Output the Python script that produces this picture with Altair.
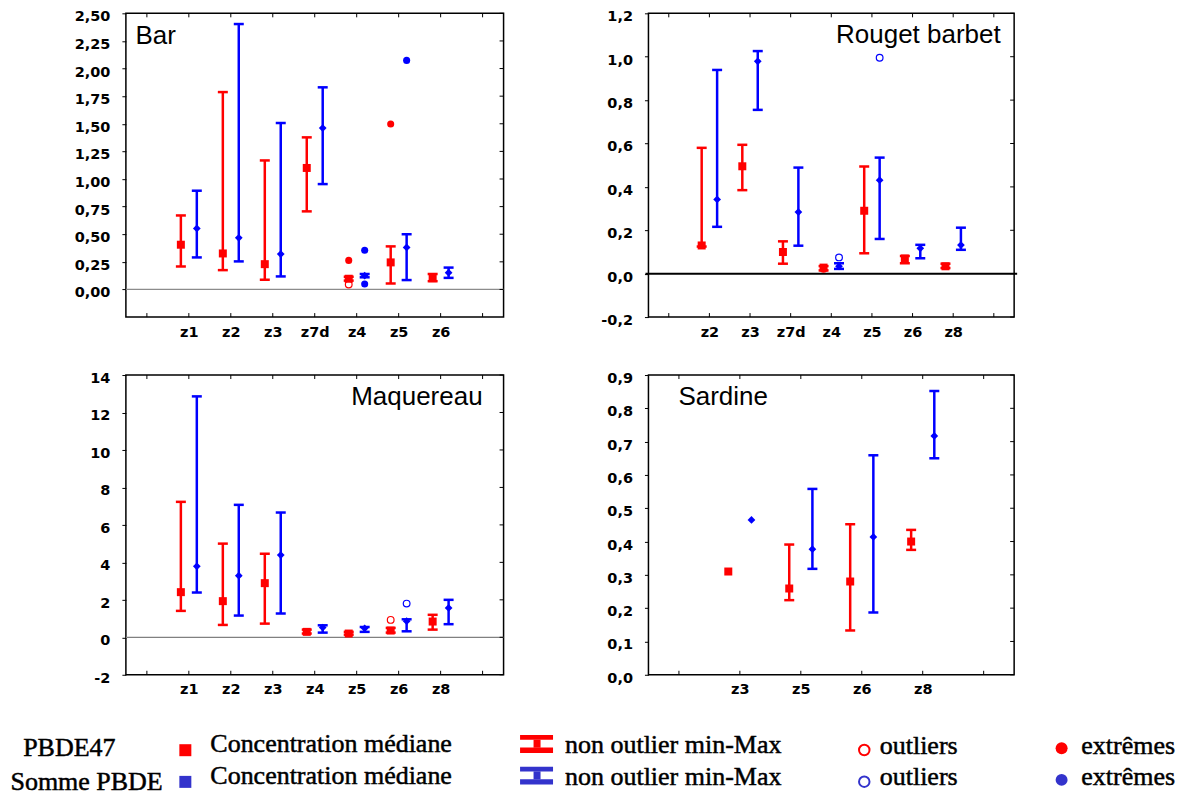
import altair as alt
import pandas as pd

# ---------------- data ----------------
# Bar
BAR_ZONES = ["z1", "z2", "z3", "z7d", "z4", "z5", "z6"]
BAR_P47_MED = [0.405, 0.326, 0.229, 1.10, 0.097, 0.245, 0.102]
BAR_P47_MIN = [0.208, 0.175, 0.088, 0.707, 0.080, 0.054, 0.075]
BAR_P47_MAX = [0.670, 1.787, 1.168, 1.377, 0.115, 0.390, 0.140]
BAR_SUM_MED = [0.553, 0.468, 0.320, 1.461, 0.125, 0.380, 0.152]
BAR_SUM_MIN = [0.290, 0.254, 0.118, 0.954, 0.110, 0.085, 0.105]
BAR_SUM_MAX = [0.894, 2.403, 1.507, 1.830, 0.140, 0.500, 0.198]
BAR_P47_OUT_ZONES = ["z4"]
BAR_P47_OUT_VALS = [0.045]
BAR_SUM_OUT_ZONES = []
BAR_SUM_OUT_VALS = []
BAR_P47_EXT_ZONES = ["z4", "z5"]
BAR_P47_EXT_VALS = [0.263, 1.498]
BAR_SUM_EXT_ZONES = ["z4", "z4", "z5"]
BAR_SUM_EXT_VALS = [0.355, 0.050, 2.074]
BAR_YTICKS = [0.0, 0.25, 0.5, 0.75, 1.0, 1.25, 1.5, 1.75, 2.0, 2.25, 2.5]

# Rouget barbet
RB_ZONES = ["z2", "z3", "z7d", "z4", "z5", "z6", "z8"]
RB_P47_MED = [0.130, 0.495, 0.100, 0.028, 0.290, 0.070, 0.034]
RB_P47_MIN = [0.125, 0.385, 0.046, 0.015, 0.094, 0.048, 0.026]
RB_P47_MAX = [0.580, 0.594, 0.149, 0.035, 0.494, 0.081, 0.046]
RB_SUM_MED = [0.342, 0.979, 0.284, 0.034, 0.431, 0.117, 0.132]
RB_SUM_MIN = [0.216, 0.755, 0.129, 0.022, 0.160, 0.071, 0.110]
RB_SUM_MAX = [0.939, 1.026, 0.489, 0.048, 0.535, 0.133, 0.212]
RB_P47_OUT_ZONES = []
RB_P47_OUT_VALS = []
RB_SUM_OUT_ZONES = ["z4", "z5"]
RB_SUM_OUT_VALS = [0.075, 0.995]
RB_P47_EXT_ZONES = ["z4"]
RB_P47_EXT_VALS = [0.020]
RB_SUM_EXT_ZONES = []
RB_SUM_EXT_VALS = []
RB_YTICKS = [-0.2, 0.0, 0.2, 0.4, 0.6, 0.8, 1.0, 1.2]

# Maquereau
MQ_ZONES = ["z1", "z2", "z3", "z4", "z5", "z6", "z8"]
MQ_P47_MED = [2.41, 1.93, 2.89, 0.29, 0.20, 0.36, 0.84]
MQ_P47_MIN = [1.41, 0.66, 0.73, 0.20, 0.14, 0.25, 0.41]
MQ_P47_MAX = [7.23, 5.00, 4.46, 0.41, 0.29, 0.50, 1.20]
MQ_SUM_MED = [3.79, 3.29, 4.39, 0.52, 0.48, 0.86, 1.57]
MQ_SUM_MIN = [2.39, 1.16, 1.27, 0.25, 0.29, 0.32, 0.70]
MQ_SUM_MAX = [12.86, 7.07, 6.66, 0.64, 0.55, 0.96, 2.00]
MQ_P47_OUT_ZONES = ["z6"]
MQ_P47_OUT_VALS = [0.93]
MQ_SUM_OUT_ZONES = ["z6"]
MQ_SUM_OUT_VALS = [1.80]
MQ_P47_EXT_ZONES = []
MQ_P47_EXT_VALS = []
MQ_SUM_EXT_ZONES = []
MQ_SUM_EXT_VALS = []
MQ_YTICKS = [-2, 0, 2, 4, 6, 8, 10, 12, 14]

# Sardine
SA_ZONES = ["z3", "z5", "z6", "z8"]
SA_P47_MED = [0.310, 0.259, 0.280, 0.400]
SA_P47_MIN = [None, 0.224, 0.133, 0.375]
SA_P47_MAX = [None, 0.391, 0.452, 0.435]
SA_SUM_MED = [0.465, 0.377, 0.414, 0.717]
SA_SUM_MIN = [None, 0.318, 0.187, 0.650]
SA_SUM_MAX = [None, 0.558, 0.659, 0.852]
SA_YTICKS = [0.0, 0.1, 0.2, 0.3, 0.4, 0.5, 0.6, 0.7, 0.8, 0.9]

# legend texts
LEG_SERIES = ["PBDE47", "Somme PBDE"]
LEG_ITEMS = ["Concentration médiane", "non outlier min-Max", "outliers", "extrêmes"]

# ---------------- styling ----------------
RED = "#ff0000"
BLUE = "#0000ff"
LEG_BLUE = "#3333cc"
OFF = 0.19
LABEL_FONT = "DejaVu Sans"
LABEL_SIZE = 14.5

ONE = pd.DataFrame({"k": [0]})


def y_label_expr(fmt):
    return "replace(replace(format(datum.value, '%s'), '.', ','), '\u2212', '-')" % fmt


def make_panel(zones, p47, sm, outs, exts, ydom, yticks, fmt, title, tx, ty, talign,
               w, h, zero=None, extra=()):
    labels = [""] + list(zones) + [""]
    n = len(labels)
    xs = alt.Scale(domain=[-0.5, n - 0.5], nice=False, zero=False)
    ys = alt.Scale(domain=ydom, nice=False, zero=False)
    lab_arr = "[" + ",".join("'" + l + "'" for l in labels) + "]"
    xaxis = alt.Axis(values=list(range(n)), labelExpr=lab_arr + "[datum.value]",
                     ticks=False, domain=False, grid=False, title=None,
                     labelPadding=8, labelFlush=False, labelOverlap=False,
                     labelFont=LABEL_FONT, labelFontSize=LABEL_SIZE, labelFontWeight="bold",
                     labelColor="black")
    yaxis = alt.Axis(values=list(yticks), labelExpr=y_label_expr(fmt), tickSize=4,
                     domain=False, grid=False, title=None, labelPadding=12, labelOffset=3.5,
                     labelFlush=False, labelOverlap=False,
                     labelFont=LABEL_FONT, labelFontSize=LABEL_SIZE, labelFontWeight="bold",
                     labelColor="black", tickColor="black")

    def X(f):
        return alt.X(f, type="quantitative", scale=xs, axis=xaxis)

    def Y(f):
        return alt.Y(f, type="quantitative", scale=ys, axis=yaxis)

    layers = []
    if zero is not None:
        zc, zw, zext = zero
        layers.append(alt.Chart(pd.DataFrame({"v": [0.0]})).mark_rule(color=zc, strokeWidth=zw)
                      .encode(y=Y("v"), x=alt.value(-zext), x2=alt.value(w + zext)))
    xt = pd.DataFrame({"t": list(range(n))})
    layers.append(alt.Chart(xt).mark_rule(color="black", strokeWidth=1)
                  .encode(x=X("t"), y=alt.value(h - 4), y2=alt.value(h)))
    layers.append(alt.Chart(xt).mark_rule(color="black", strokeWidth=1)
                  .encode(x=X("t"), y=alt.value(0), y2=alt.value(4)))
    yt = pd.DataFrame({"v": list(yticks)})
    layers.append(alt.Chart(yt).mark_rule(color="black", strokeWidth=1)
                  .encode(y=Y("v"), x=alt.value(w - 4), x2=alt.value(w)))

    for (med, lo, hi), off, col, shape, msize in [(p47, -OFF, RED, "square", 64),
                                                  (sm, OFF, BLUE, "diamond", 60)]:
        df = pd.DataFrame({"x": [i + 1 + off for i in range(len(zones))],
                           "med": med, "lo": lo, "hi": hi})
        bars = df.dropna()
        layers.append(alt.Chart(bars).mark_rule(color=col, strokeWidth=2.5)
                      .encode(x=X("x"), y=Y("lo"), y2=alt.Y2("hi")))
        for f in ("lo", "hi"):
            layers.append(alt.Chart(bars).mark_tick(color=col, orient="horizontal", size=10,
                                                    thickness=2.5, opacity=1)
                          .encode(x=X("x"), y=Y(f)))
        layers.append(alt.Chart(df[["x", "med"]]).mark_point(shape=shape, filled=True, size=msize,
                                                             color=col, opacity=1)
                      .encode(x=X("x"), y=Y("med")))

    for (zl, vl), off, col in zip(outs, (-OFF, OFF), (RED, BLUE)):
        if zl:
            d = pd.DataFrame({"x": [zones.index(z) + 1 + off for z in zl], "v": vl})
            layers.append(alt.Chart(d).mark_point(shape="circle", filled=False, size=45,
                                                  strokeWidth=1.2, color=col, opacity=1)
                          .encode(x=X("x"), y=Y("v")))
    for (zl, vl), off, col in zip(exts, (-OFF, OFF), (RED, BLUE)):
        if zl:
            d = pd.DataFrame({"x": [zones.index(z) + 1 + off for z in zl], "v": vl})
            layers.append(alt.Chart(d).mark_circle(size=50, color=col, opacity=1)
                          .encode(x=X("x"), y=Y("v")))

    layers.append(alt.Chart(pd.DataFrame({"t": [title]}))
                  .mark_text(font="Liberation Sans", fontSize=26, align=talign,
                             baseline="alphabetic", color="black")
                  .encode(x=alt.value(tx), y=alt.value(ty), text="t:N"))
    layers.extend(extra)
    return alt.layer(*layers).properties(width=w, height=h)


# ---------------- legend (drawn below the lower panels) ----------------
def ltext(s, x, y):
    return (alt.Chart(pd.DataFrame({"t": [s]}))
            .mark_text(font="Liberation Serif", fontSize=26, align="left",
                       baseline="alphabetic", color="black", stroke="black", strokeWidth=0.5)
            .encode(x=alt.value(x), y=alt.value(y), text="t:N"))


def lrule(col, sw, x, y, x2=None, y2=None, opacity=1.0):
    enc = {"x": alt.value(x), "y": alt.value(y)}
    if x2 is not None:
        enc["x2"] = alt.value(x2)
    if y2 is not None:
        enc["y2"] = alt.value(y2)
    return alt.Chart(ONE).mark_rule(color=col, strokeWidth=sw, opacity=opacity).encode(**enc)


def lsym(col, shape, size, filled, x, y, sw=1.0):
    return (alt.Chart(ONE)
            .mark_point(shape=shape, size=size, filled=filled, color=col, opacity=1, strokeWidth=sw)
            .encode(x=alt.value(x), y=alt.value(y)))


legend_layers = [lrule("white", 1, -125.0, 100, x2=-124.5, opacity=0)]  # left layout anchor
for row, col in enumerate([RED, LEG_BLUE]):
    ry = 31.7 * row
    legend_layers.append(ltext(LEG_SERIES[row], [-102.8, -115.5][row], [381.0, 415.5][row]))
    legend_layers.append(lsym(col, "square", 144, True, 59.5, 375.5 + ry))
    legend_layers.append(ltext(LEG_ITEMS[0], 84.5, 377.7 + ry))
    legend_layers.append(lrule(col, 4.7, 394.5, 362.7 + ry, x2=427.5))
    legend_layers.append(lrule(col, 5.5, 394.5, 375.5 + ry, x2=427.5))
    legend_layers.append(lrule(col, 7, 411.5, 365.0 + ry, y2=373.0 + ry))
    legend_layers.append(ltext(LEG_ITEMS[1], 439.5, 378.5 + ry))
    legend_layers.append(lsym(col, "circle", 110, False, 739.0, 375.3 + ry, sw=2))
    legend_layers.append(ltext(LEG_ITEMS[2], 754.5, 379.0 + ry))
    legend_layers.append(lsym(col, "circle", 144, True, 936.5, 373.5 + ry))
    legend_layers.append(ltext(LEG_ITEMS[3], 956.2, 379.0 + ry))

top_anchor = [lrule("white", 1, 50, -11.5, x2=60, opacity=0)]  # top layout anchor

# ---------------- panels ----------------
W1, W2 = 378, 366
H1, H2 = 304, 300

p_bar = make_panel(BAR_ZONES, (BAR_P47_MED, BAR_P47_MIN, BAR_P47_MAX),
                   (BAR_SUM_MED, BAR_SUM_MIN, BAR_SUM_MAX),
                   ((BAR_P47_OUT_ZONES, BAR_P47_OUT_VALS), (BAR_SUM_OUT_ZONES, BAR_SUM_OUT_VALS)),
                   ((BAR_P47_EXT_ZONES, BAR_P47_EXT_VALS), (BAR_SUM_EXT_ZONES, BAR_SUM_EXT_VALS)),
                   [-0.25, 2.5], BAR_YTICKS, ".2f", "Bar", 9.5, 31, "left", W1, H1,
                   zero=("#8c8c8c", 1.3, 0), extra=top_anchor)

p_rb = make_panel(RB_ZONES, (RB_P47_MED, RB_P47_MIN, RB_P47_MAX),
                  (RB_SUM_MED, RB_SUM_MIN, RB_SUM_MAX),
                  ((RB_P47_OUT_ZONES, RB_P47_OUT_VALS), (RB_SUM_OUT_ZONES, RB_SUM_OUT_VALS)),
                  ((RB_P47_EXT_ZONES, RB_P47_EXT_VALS), (RB_SUM_EXT_ZONES, RB_SUM_EXT_VALS)),
                  [-0.2, 1.2], RB_YTICKS, ".1f", "Rouget barbet", W2 - 13.5, 30, "right", W2, H1,
                  zero=("black", 2, 3))

p_mq = make_panel(MQ_ZONES, (MQ_P47_MED, MQ_P47_MIN, MQ_P47_MAX),
                  (MQ_SUM_MED, MQ_SUM_MIN, MQ_SUM_MAX),
                  ((MQ_P47_OUT_ZONES, MQ_P47_OUT_VALS), (MQ_SUM_OUT_ZONES, MQ_SUM_OUT_VALS)),
                  ((MQ_P47_EXT_ZONES, MQ_P47_EXT_VALS), (MQ_SUM_EXT_ZONES, MQ_SUM_EXT_VALS)),
                  [-2, 14], MQ_YTICKS, "d", "Maquereau", W1 - 21, 30.5, "right", W1, H2,
                  zero=("#808080", 1.3, 0), extra=legend_layers)

p_sa = make_panel(SA_ZONES, (SA_P47_MED, SA_P47_MIN, SA_P47_MAX),
                  (SA_SUM_MED, SA_SUM_MIN, SA_SUM_MAX),
                  (([], []), ([], [])), (([], []), ([], [])),
                  [0.0, 0.9], SA_YTICKS, ".1f", "Sardine", 30, 30, "left", W2, H2)

chart = (alt.concat(p_bar, p_rb, p_mq, p_sa, columns=2,
                    spacing={"row": 58, "column": 145})
         .properties(bounds="flush", align="each",
                     padding={"left": 0, "top": 0, "right": 5, "bottom": 0},
                     background="white")
         .configure_axis(labelFont=LABEL_FONT, labelFontWeight="bold", labelFontSize=LABEL_SIZE,
                         labelColor="black", tickColor="black", tickWidth=1)
         .configure_view(stroke="black", strokeWidth=1.5))

chart.save("out.html", embed_options={"renderer": "svg", "actions": False})
